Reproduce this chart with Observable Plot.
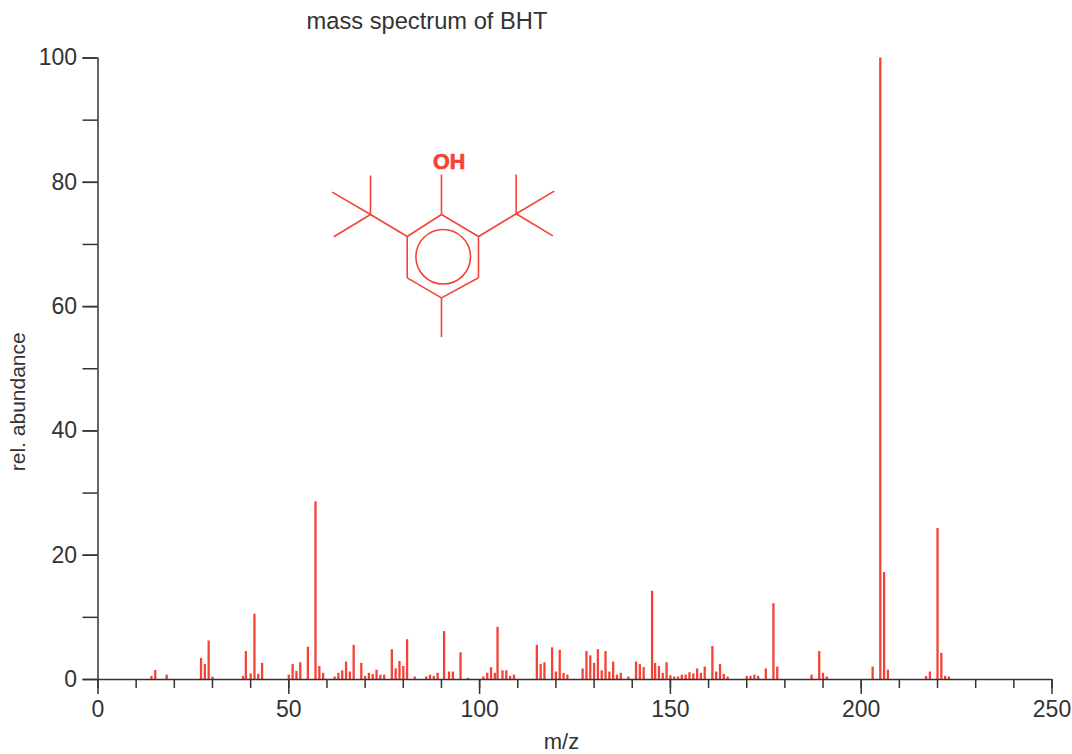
<!DOCTYPE html>
<html>
<head>
<meta charset="utf-8">
<script src="https://cdn.jsdelivr.net/npm/d3@7"></script>
<script src="https://cdn.jsdelivr.net/npm/@observablehq/plot@0.6"></script>
<style>
html,body{margin:0;padding:0;background:#fff}
svg{display:block}
</style>
</head>
<body>
<div id="chart"></div>
<script>
const mz = [14,15,18,27,28,29,30,38,38.75,40,41,42,43,50,51,52,53,55,57,58,59,62,63,64,65,66,67,69,70,71,72,73,74,75,77,78,79,80,81,83,86,87,88,89,90.7,92,93,95,97,101,102,103,104,104.7,106,107,108,109,115,116,117,119,120,121,122,123,127,128,129,130,131,132,133,134,135,136,137,139,141,142,143,145.2,146,147,148,149,150,151,152,153,154,155,156,157,158,159,161,162,163,164,165,170,171,172,173,175,177,178,187,189,190,191,203,205,206,207,217,218,220,221,222,223];
const abundance = [0.5,1.45,0.7,3.4,2.4,6.2,0.4,0.5,4.5,0.9,10.5,0.8,2.6,0.7,2.4,1.3,2.7,5.2,28.6,2.1,1.0,0.4,1.0,1.4,2.8,1.2,5.5,2.6,0.5,1.0,0.8,1.5,0.7,0.7,4.8,1.7,2.9,2.1,6.4,0.4,0.4,0.7,0.5,1.0,7.7,1.2,1.2,4.3,0.2,0.4,1.0,1.9,1.0,8.4,1.4,1.4,0.5,0.7,5.5,2.4,2.7,5.1,1.2,4.7,1.0,0.7,1.7,4.5,3.8,2.6,4.8,1.4,4.5,1.2,2.8,0.7,1.0,0.4,2.8,2.4,1.9,14.2,2.6,2.1,1.0,2.7,0.6,0.4,0.4,0.7,0.7,1.1,0.9,1.7,1.0,2.0,5.3,1.2,2.4,0.8,0.4,0.5,0.5,0.7,0.5,1.7,12.2,2.0,0.7,4.5,1.0,0.4,2.0,100,17.2,1.5,0.5,1.2,24.3,4.2,0.5,0.4];
const xMajorTicks = [0,50,100,150,200,250];
const xMinorTicks = d3.range(0,251,10);
const yMajorTicks = [0,20,40,60,80,100];
const yMinorTicks = d3.range(0,101,10);
const titleText = "mass spectrum of BHT";
const xLabel = "m/z";
const yLabel = "rel. abundance";
// BHT structure, in chart units [x1,y1,x2,y2]
const bonds = [
 [90.01,74.82,99.71,71.28],[99.71,71.28,99.71,64.63],[99.71,64.63,90.01,61.41],
 [90.01,61.41,81.03,64.63],[81.03,64.63,81.03,71.28],[81.03,71.28,90.01,74.82],
 [90.01,74.82,90.01,81.25],[90.01,61.41,90.01,55.08],
 [81.03,71.28,71.41,74.82],[71.41,74.82,71.41,81.09],[71.41,74.82,61.37,78.41],[71.41,74.82,61.79,71.23],
 [99.71,71.28,109.59,74.93],[109.59,74.93,109.59,81.25],[109.59,74.93,119.55,78.57],[109.59,74.93,119.18,71.39]
];
const ringCenter = [[90.46,68.02]];
const hydroxyl = [{x:92.03,y:83.3,t:"OH"}];

const red = "#f44336", ink = "#333333", font = "'Liberation Sans', Arial, sans-serif";
const chart = Plot.plot({
  width:1072, height:754,
  marginLeft:97.5, marginRight:20.5, marginTop:57.5, marginBottom:75,
  style:{fontFamily:font, background:"#fff", color:ink},
  x:{domain:[0,250]}, y:{domain:[0,100]},
  marks:[
    Plot.ruleX(mz,{x:d=>d,y1:0,y2:(d,i)=>abundance[i],stroke:red,strokeWidth:2.3}),
    Plot.link(bonds,{x1:d=>d[0],y1:d=>d[1],x2:d=>d[2],y2:d=>d[3],stroke:red,strokeWidth:1.6}),
    Plot.dot(ringCenter,{x:d=>d[0],y:d=>d[1],r:27.3,stroke:red,strokeWidth:1.6}),
    Plot.text(hydroxyl,{x:"x",y:"y",text:"t",fill:red,stroke:red,strokeWidth:0.7,fontSize:21.5,fontWeight:"bold",fontFamily:font}),
    Plot.ruleY([0],{stroke:ink,strokeWidth:1.5}),
    Plot.ruleX([0],{stroke:ink,strokeWidth:1.5}),
    Plot.axisX({ticks:xMinorTicks,tickSize:9,text:null,label:null,stroke:ink,strokeWidth:1.5}),
    Plot.axisX({ticks:xMajorTicks,tickSize:15,tickPadding:6,fontSize:23,label:null,stroke:ink,strokeWidth:1.5,fill:ink}),
    Plot.axisY({ticks:yMinorTicks,tickSize:15,text:null,label:null,stroke:ink,strokeWidth:1.5}),
    Plot.axisY({ticks:yMajorTicks,tickSize:15,tickPadding:6,fontSize:23,label:null,stroke:ink,strokeWidth:1.5,fill:ink}),
    Plot.text([titleText],{text:d=>d,frameAnchor:"top-left",lineAnchor:"middle",dx:208.5,dy:-36.5,fontSize:23.7,fill:ink}),
    Plot.text([xLabel],{text:d=>d,frameAnchor:"bottom",lineAnchor:"middle",dx:-13.5,dy:62.5,fontSize:22,fill:ink}),
    Plot.text([yLabel],{text:d=>d,frameAnchor:"left",textAnchor:"middle",lineAnchor:"middle",rotate:-90,dx:-79.5,dy:33,fontSize:21,fill:ink})
  ]
});
document.getElementById("chart").append(chart);
</script>
</body>
</html>
